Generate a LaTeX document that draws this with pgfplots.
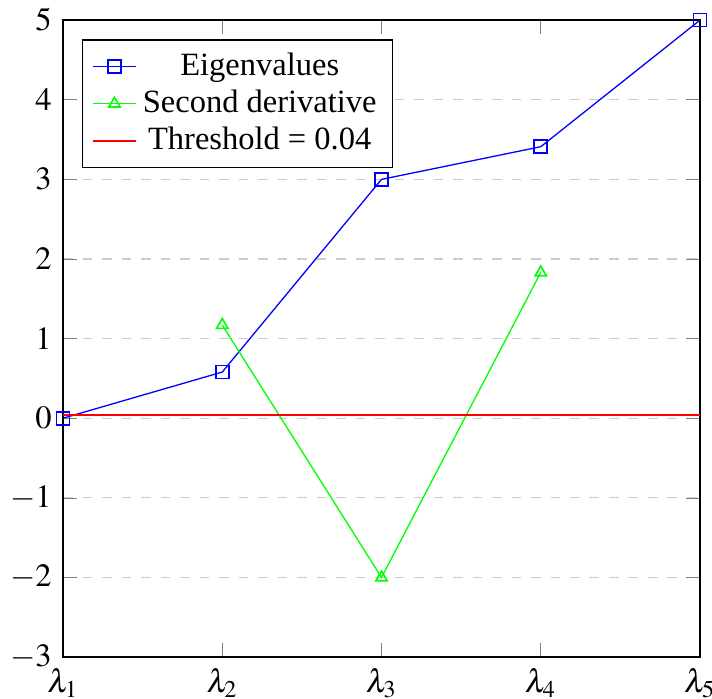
\documentclass[border=0pt]{standalone}
\usepackage{xcolor}
\usepackage{mathptmx}
\usepackage{fontspec}
\setmainfont{Liberation Serif}
\usepackage{pgfplots}
\pgfplotsset{compat=1.18}
\definecolor{eigblue}{RGB}{0,0,255}
\definecolor{dergreen}{RGB}{0,255,0}
\definecolor{thrred}{RGB}{255,0,0}
% short legend line, colour given again (the driver loses it otherwise)
\pgfplotsset{
  legline/.style={legend image code/.code={
    \draw[mark repeat=2, mark phase=2, ##1, #1]
      plot coordinates {(0cm,0cm) (0.23cm,0cm) (0.46cm,0cm)};}},
}
\begin{document}
\begin{tikzpicture}
\begin{axis}[
    scale only axis,
    width=196pt, height=196pt,
    xmin=1, xmax=5,
    ymin=-3, ymax=5,
    clip=false,
    xtick={1,2,3,4,5},
    xticklabels={$\lambda_1$,$\lambda_2$,$\lambda_3$,$\lambda_4$,$\lambda_5$},
    ytick={-3,-2,...,5},
    ymajorgrids=true,
    grid style={dashed,gray!40},
    legend pos=north west,
    legend cell align=center,
    legend style={row sep=-1pt},
]
\addplot[eigblue, mark=square, mark options={solid, eigblue, line width=0.5pt}, legline=eigblue]
  coordinates {(1,0) (2,0.58) (3,3) (4,3.41) (5,5)};
\addlegendentry{Eigenvalues}
\addplot[dergreen, mark=triangle, mark options={solid, dergreen, line width=0.5pt}, legline=dergreen]
  coordinates {(2,1.17) (3,-2) (4,1.83)};
\addlegendentry{Second derivative}
\addplot[thrred, no marks, legline=thrred] coordinates {(1,0.04) (5,0.04)};
\addlegendentry{Threshold = 0.04}
\end{axis}
\pgfresetboundingbox
\path[use as bounding box] ([shift={(-19.4pt,-12.9pt)}]current axis.south west) rectangle ([shift={(3.7pt,6.2pt)}]current axis.north east);
\end{tikzpicture}
\end{document}
